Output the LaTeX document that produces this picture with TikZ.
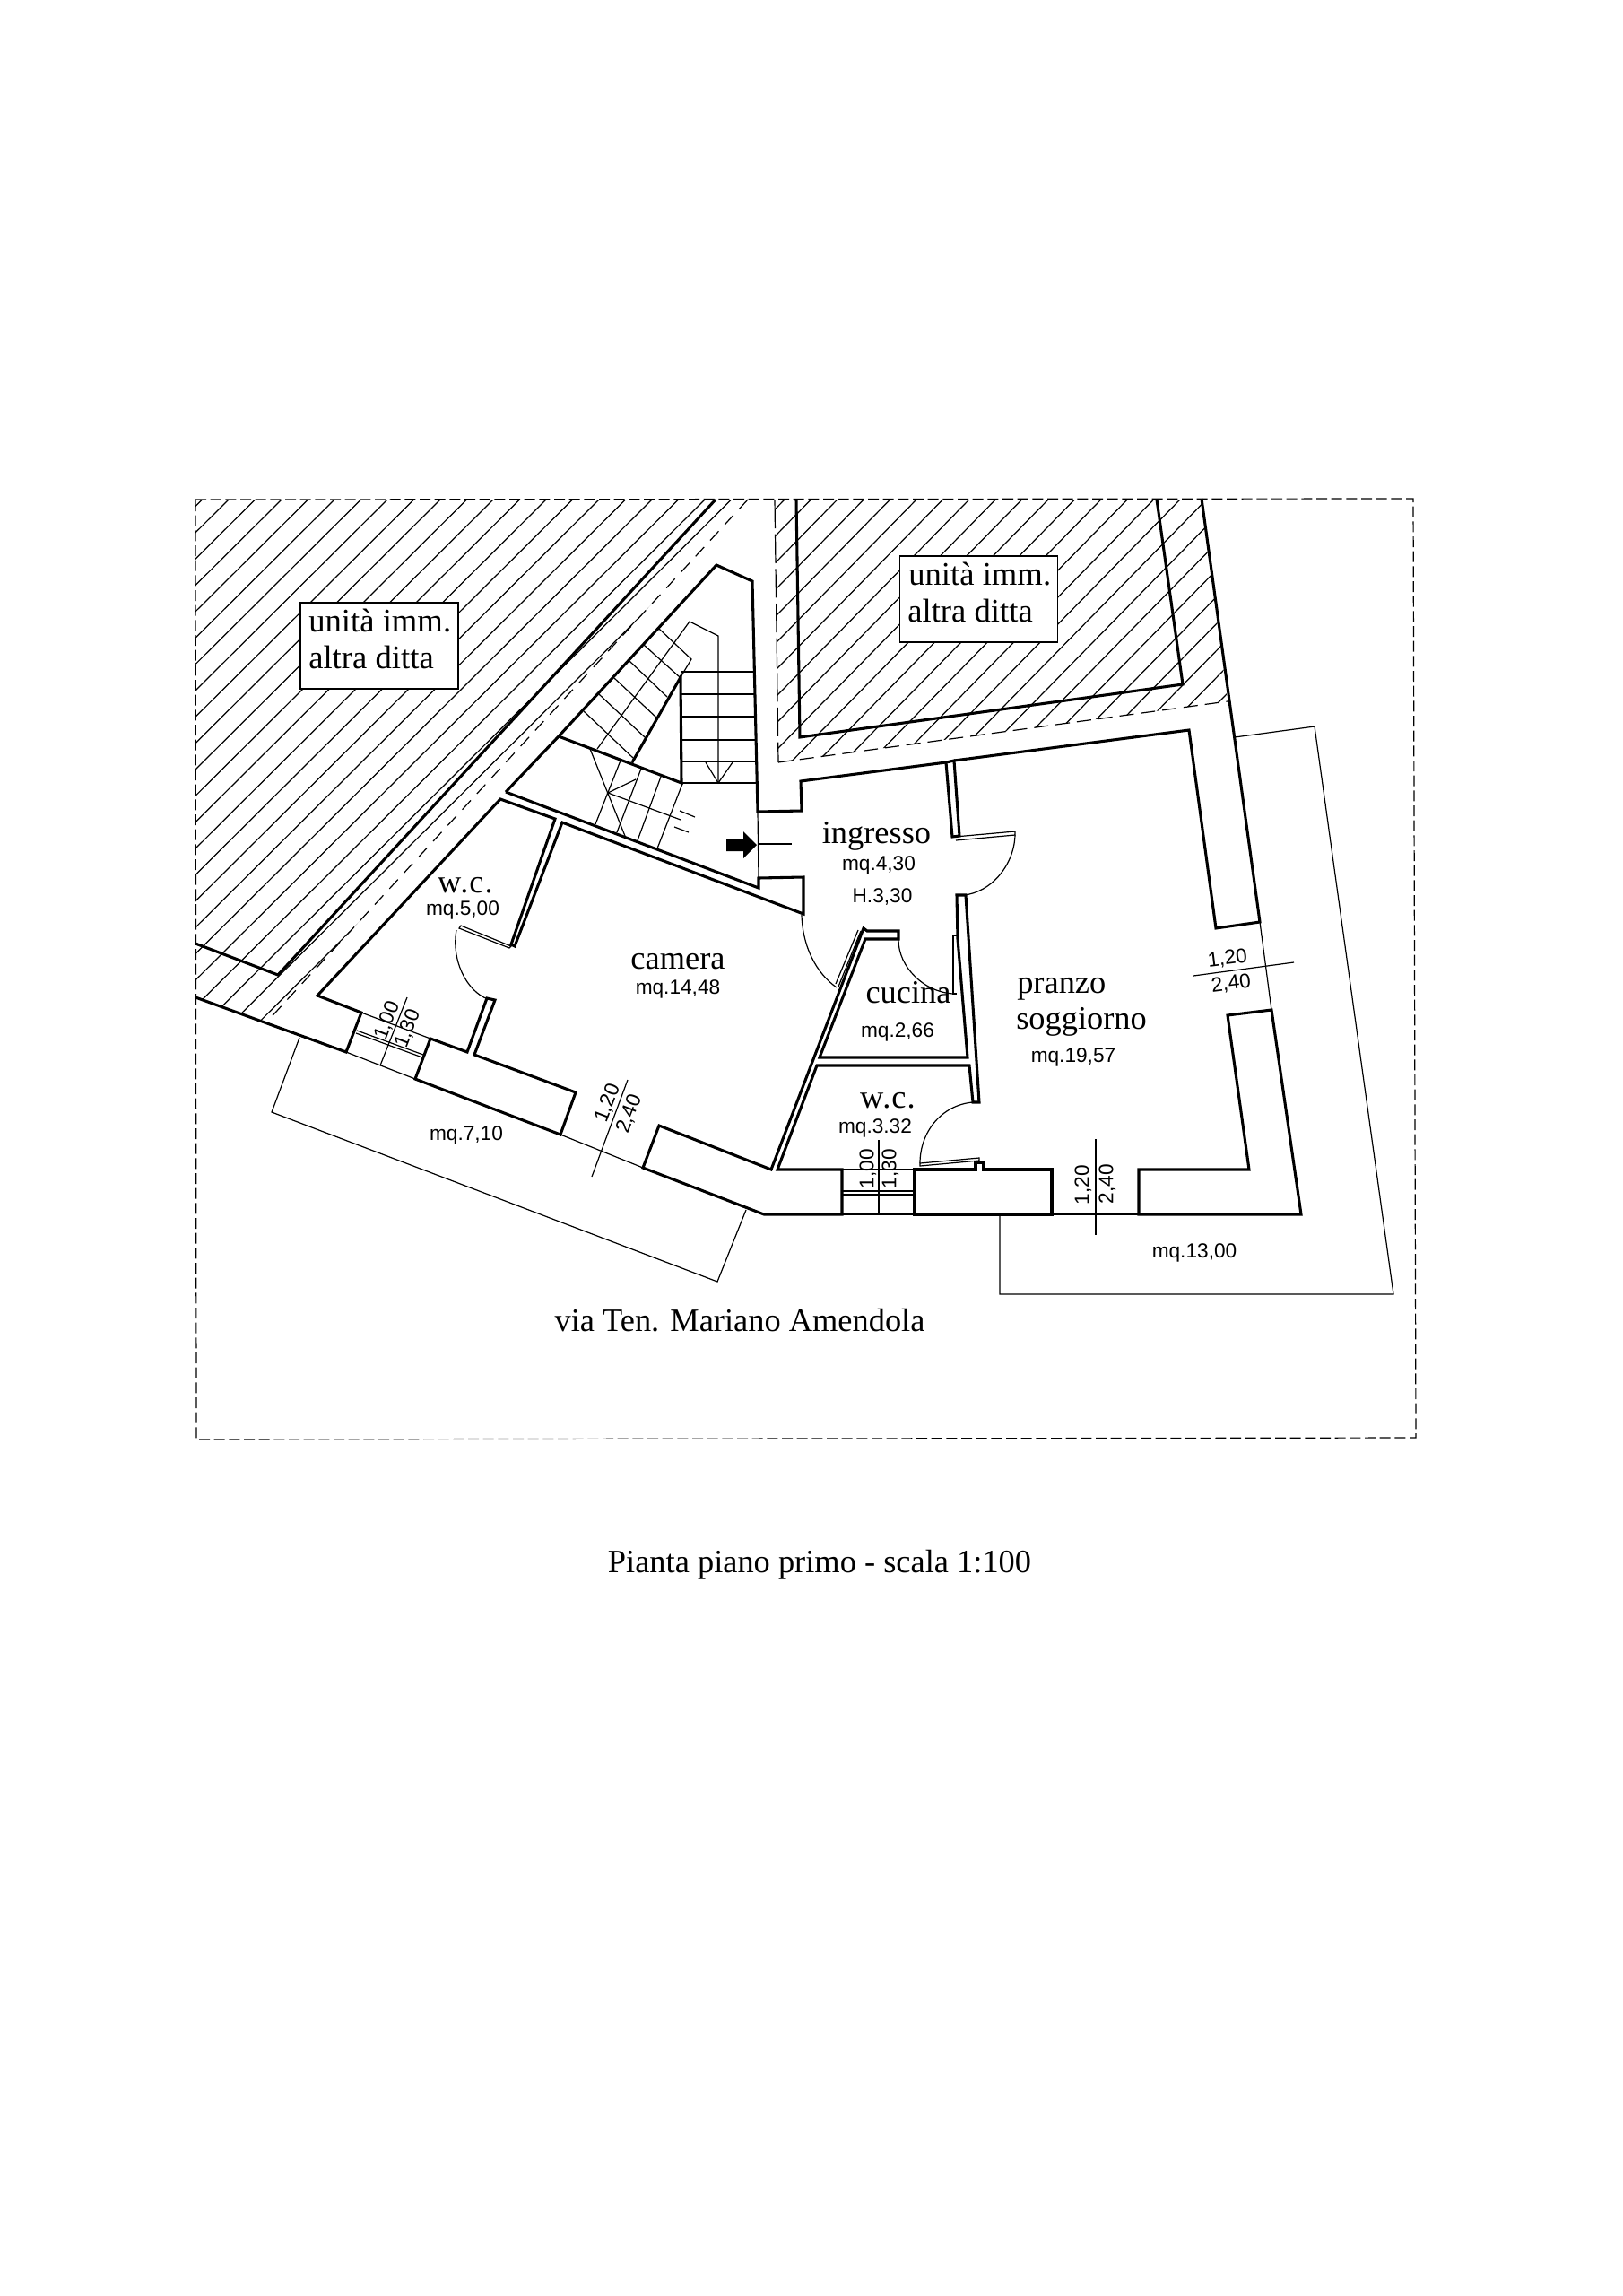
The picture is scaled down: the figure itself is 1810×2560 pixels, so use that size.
\documentclass[tikz,border=0pt]{standalone}
\usepackage{fontspec}
\setmainfont{Liberation Serif}
\setsansfont{Liberation Sans}

\tikzset{
  wall/.style={line width=2.3pt,line join=miter},
  thinline/.style={line width=0.9pt},
  hatchline/.style={line width=0.9pt},
  sitedash/.style={line width=0.9pt,dash pattern={on 9pt off 3.5pt}},
  partydash/.style={line width=0.9pt,dash pattern={on 10.5pt off 7.5pt}},
  roomname/.style={anchor=base,inner sep=0pt,font=\fontsize{27.3}{31}\selectfont},
  wcname/.style={roomname,font=\fontsize{27.3}{31}\selectfont\addfontfeature{LetterSpace=3}},
  areatext/.style={anchor=base,inner sep=0pt,font=\sffamily\fontsize{17}{20}\selectfont},
  dimtext/.style={inner sep=0pt,font=\sffamily\fontsize{17}{20}\selectfont},
  neighbourbox/.style={draw,fill=white,line width=0.9pt,minimum width=132pt,minimum height=72pt,inner sep=0pt},
  neighbourtext/.style={anchor=base west,inner sep=0pt,font=\fontsize{27.5}{31}\selectfont}
}

\begin{document}
\begin{tikzpicture}[x=0.75pt,y=0.75pt,yscale=-1,xscale=1]
\useasboundingbox (0,0) rectangle (1810,2560);

%Site boundary
\draw [sitedash] (218,557) -- (1576,556) -- (1579,1603) -- (219,1605) -- cycle ;

%Hatch of the left neighbour
\begin{scope}
\clip (218,557) -- (834,557) -- (296,1141) -- (218,1112) -- cycle ;
\foreach \hx in {225.5,255,...,900} {
  \draw [hatchline] (\hx,557) -- ++(-800,796) ;
}
\end{scope}
%Hatch of the upper neighbour
\begin{scope}
\clip (864,557) -- (1340,557) -- (1369,782) -- (868,850) -- cycle ;
\foreach \hx in {875,904.4,...,1620} {
  \draw [hatchline] (\hx,557) -- ++(-600,612) ;
}
\end{scope}

%Left neighbour walls
\draw [wall] (798,557) -- (310,1087) -- (218,1052) ;
\draw [partydash] (834,557) -- (296,1141) ;
%Upper neighbour walls
\draw [wall] (888,557) -- (892,822) -- (1319,763) -- (1290,557) ;
\draw [partydash,dash pattern={on 24pt off 5pt}] (864,557) -- (868,850) ;
\draw [partydash,dash pattern={on 12pt off 6pt}] (868,850) -- (1369,782) ;

%Outer walls
\draw [wall] (564,883) -- (623,821) -- (799,630) -- (839,648) -- (845,905) -- (894,904) -- (893,871) -- (1055,850) ;
\draw [wall] (1064,848) -- (1326,814) -- (1356,1035) -- (1405,1028) -- (1340,556) ;
\draw [wall] (1369,1132) -- (1418,1126) -- (1451,1354) -- (1270,1354) -- (1270,1304) -- (1393,1304) -- cycle ;
\draw [wall] (1020,1304) -- (1088,1304) -- (1088,1296) -- (1097,1296) -- (1097,1304) -- (1173,1304) -- (1173,1354) -- (1020,1354) -- cycle ;
\draw [wall] (939,1304) -- (939,1354) -- (852,1354) -- (717,1302) -- (735,1255) -- (860,1304) -- (963,1035) -- (967,1038) -- (1002,1038) -- (1002,1047) -- (965,1047) -- (914,1179) -- (1079,1179) -- (1068,1047) -- (1067,998) -- (1077,998) -- (1092,1229) -- (1085,1229) -- (1081,1188) -- (911,1188) -- (867,1304) -- cycle ;
\draw [wall] (218,1112) -- (386,1173) -- (403,1129) -- (354,1110) -- (558,891) -- (619,913) -- (570,1053) -- (574,1055) -- (627,917) -- (896,1019) -- (896,978) -- (846,979) -- (846,990) -- (564,883) ;
\draw [wall] (521,1173) -- (543,1113) -- (552,1115) -- (529,1176) -- (642,1218) -- (625,1265) -- (463,1203) -- (480,1158) -- cycle ;
\draw [wall] (1062,933) -- (1070,932) -- (1064,848) -- (1055,850) -- cycle ;

%Stairs
\draw [wall] (623,821) -- (760,873) -- (759,755) -- (705,850) ;
\draw [thinline] (735,701) -- (771,735) -- (759,755) ;
\draw [thinline] (718,719) -- (758,755) ;
\draw [thinline] (702,737) -- (744,777) ;
\draw [thinline] (685,756) -- (732,800) ;
\draw [thinline] (668,774) -- (719,822) ;
\draw [thinline] (651,793) -- (706,845) ;
\draw [thinline] (666,835) -- (769,693) -- (801,709) -- (801,873) ;
\foreach \ty in {749,774,799,825,849,873} {
  \draw [thinline] (760,\ty) -- (843,\ty) ;
}
\draw [thinline] (787,850) -- (801,873) -- (817,850) ;
\draw [thinline] (692,848) -- (664,919) ;
\draw [thinline] (715,857) -- (688,928) ;
\draw [thinline] (737,866) -- (711,937) ;
\draw [thinline] (761,874) -- (733,946) ;
\draw [thinline] (658,835) -- (697,932) ;
\draw [thinline] (709,869) -- (678,884) -- (759,914) ;
\draw [thinline] (758,904) -- (775,911) ;
\draw [thinline] (752,922) -- (768,928) ;

%Entrance arrow
\fill (810,935) -- (829,935) -- (829,927) -- (844,942) -- (829,957) -- (829,949) -- (810,949) -- cycle ;
\draw [thinline] (845,905) -- (846,979) ;
\draw [thinline] (845,941) -- (883,941) ;

%Doors
\draw [thinline] (1065,933) -- (1132,927) -- (1132,931) -- (1066,937) ;
\draw [thinline] (1132,931) .. controls (1131,965) and (1105,995) .. (1075,998) ;
\draw [thinline] (894,1020) .. controls (895,1055) and (910,1085) .. (933,1101) ;
\draw [thinline] (957,1037) -- (932,1097) (960,1038) -- (935,1100) ;
\draw [thinline] (1067,1043) -- (1063,1043) -- (1063,1108) -- (1067,1108) ;
\draw [thinline] (1002,1048) .. controls (1002,1078) and (1030,1106) .. (1063,1108) ;
\draw [thinline] (1085,1229) .. controls (1050,1232) and (1026,1262) .. (1026,1297) ;
\draw [thinline] (1026,1297) -- (1092,1291) -- (1092,1294) -- (1026,1300) -- cycle ;
\draw [thinline] (514,1032) -- (570,1055) -- (568,1057) -- (512,1035) -- cycle ;
\draw [thinline] (509,1037) .. controls (503,1070) and (520,1105) .. (544,1114) ;

%Windows
\draw [thinline] (939,1304) -- (1020,1304) ;
\draw [thinline] (939,1354) -- (1020,1354) ;
\draw [thinline] (939,1328) -- (1020,1328) (939,1332) -- (1020,1332) ;
\draw [thinline] (403,1129) -- (480,1158) ;
\draw [thinline] (386,1173) -- (463,1203) ;
\draw [thinline] (398,1149) -- (472,1176) (397,1152) -- (471,1179) ;
\draw [thinline] (625,1265) -- (717,1302) ;
\draw [thinline] (1173,1354) -- (1270,1354) ;
\draw [thinline] (1405,1028) -- (1418,1126) ;

%Dimension lines
\draw [thinline] (980,1271) -- (980,1354) ;
\draw [thinline] (454,1112) -- (424,1188) ;
\draw [thinline] (700,1204) -- (660,1312) ;
\draw [thinline] (1222,1270) -- (1222,1377) ;
\draw [thinline] (1331,1088) -- (1443,1073) ;

%Balconies
\draw [thinline] (334,1157) -- (303,1240) -- (800,1429) -- (832,1349) ;
\draw [thinline] (1115,1355) -- (1115,1443) -- (1554,1443) -- (1466,810) -- (1377,822) ;

%Neighbour labels
\draw (423,720) node [neighbourbox] (boxleft) {};
\draw (344,704) node [neighbourtext] (boxleftup) {unità imm.};
\draw (344,745) node [neighbourtext] (boxleftlow) {altra ditta};
\draw (1091.5,668) node [neighbourbox] (boxupper) {};
\draw (1013,652) node [neighbourtext] (boxupperup) {unità imm.};
\draw (1012,693) node [neighbourtext] (boxupperlow) {altra ditta};

% Text Node
\draw (977.5,940) node [roomname] (ingresso) {ingresso};
\draw (980,970) node [areatext] (ingressoarea) {mq.4,30};
\draw (984,1006) node [areatext] (ingressoheight) {H.3,30};
\draw (1013,1118) node [roomname] (cucina) {cucina};
\draw (1001,1156) node [areatext] (cucinaarea) {mq.2,66};
\draw (990,1235) node [wcname] (wcright) {w.c.};
\draw (976,1263) node [areatext] (wcrightarea) {mq.3.32};
\draw (1134,1107) node [roomname,anchor=base west] (pranzo) {pranzo};
\draw (1133,1147) node [roomname,anchor=base west] (soggiorno) {soggiorno};
\draw (1197,1184) node [areatext] (soggiornoarea) {mq.19,57};
\draw (519,995) node [wcname] (wcleft) {w.c.};
\draw (516,1020) node [areatext] (wcleftarea) {mq.5,00};
\draw (756,1080) node [roomname] (camera) {camera};
\draw (756,1108) node [areatext] (cameraarea) {mq.14,48};
\draw (520,1271) node [areatext] (balconyleft) {mq.7,10};
\draw (1332,1402) node [areatext] (balconyright) {mq.13,00};
\draw (825,1484) node [roomname] (street) {via Ten. Mariano Amendola};
\draw (914,1753) node [roomname] (caption) {Pianta piano primo - scala 1:100};

% Dimension Text
\draw (432,1138) node [dimtext,rotate=69] (winleftup) {1,00};
\draw (455,1147) node [dimtext,rotate=69] (winleftlow) {1,30};
\draw (678,1230) node [dimtext,rotate=69] (cameraup) {1,20};
\draw (702,1242) node [dimtext,rotate=69] (cameralow) {2,40};
\draw (968,1303) node [dimtext,rotate=90] (winwcup) {1,00};
\draw (993,1303) node [dimtext,rotate=90] (winwclow) {1,30};
\draw (1208,1321) node [dimtext,rotate=90] (southup) {1,20};
\draw (1235,1320) node [dimtext,rotate=90] (southlow) {2,40};
\draw (1369,1069) node [dimtext,rotate=7] (eastup) {1,20};
\draw (1373,1097) node [dimtext,rotate=7] (eastlow) {2,40};

\end{tikzpicture}
\end{document}
